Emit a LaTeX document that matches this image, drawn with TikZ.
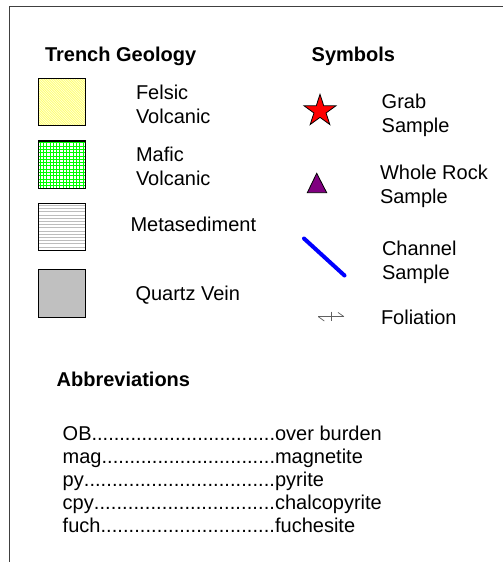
\documentclass[tikz,border=0pt]{standalone}
\usepackage{fontspec}
\setmainfont{Liberation Sans}
\usetikzlibrary{shapes.geometric}
\definecolor{framegray}{HTML}{404040}
\definecolor{quartz}{HTML}{C0C0C0}
\definecolor{felsicbg}{HTML}{FFFFD8}
\definecolor{felsicln}{HTML}{FFFF70}
\definecolor{maficln}{HTML}{00FF00}
\definecolor{sedln}{HTML}{BDBDBD}
\definecolor{wrpurple}{HTML}{800080}
\definecolor{foligray}{HTML}{606060}
\begin{document}
\begin{tikzpicture}[x=1pt,y=-1pt,
  every node/.style={inner sep=0pt,outer sep=0pt,font=\fontsize{20}{24}\selectfont},
  heading/.style={anchor=base west,font=\fontsize{20}{24}\selectfont\bfseries},
  label/.style={anchor=base west},
  unitbox/.style={rectangle,minimum width=47.4,minimum height=47.4,draw=black,line width=1.1pt},
  abbrevrow/.style={anchor=base west}]
\useasboundingbox (0,0) rectangle (503,562);

% panel frame (top and left edges)
\draw[framegray,line width=1pt] (503,6) -- (9,6) -- (9,562);

% headings
\node[heading] (hgeo) at (45,61.7) {Trench Geology};
\node[heading] (hsym) at (311.7,61.7) {Symbols};
\node[heading] (habb) at (56.7,386) {Abbreviations};

% geology units
\node[unitbox,fill=felsicbg,path picture={
  \foreach \i in {-48,-45.6,...,48}
    \draw[felsicln,line width=0.7pt] (path picture bounding box.north west) ++(\i,0) -- ++(50,50);
}] (felsic) at (62,102) {};
\node[unitbox,fill=white,path picture={
  \foreach \i in {1.8,5.1,...,48}{
    \draw[maficln,line width=0.9pt] (path picture bounding box.north west) ++(\i,0) -- ++(0,50);
    \draw[maficln,line width=0.9pt] (path picture bounding box.north west) ++(0,\i) -- ++(50,0);}
}] (mafic) at (62,164.7) {};
\node[unitbox,fill=white,path picture={
  \foreach \i in {2,5.2,...,48}
    \draw[sedln,line width=0.8pt] (path picture bounding box.north west) ++(0,\i) -- ++(50,0);
}] (metased) at (62,227) {};
\node[unitbox,fill=quartz] (quartzv) at (62,293.6) {};

\node[label] (tfelsic) at (136,99) {\vtop{\hbox{Felsic}\hbox{Volcanic}}};
\node[label] (tmafic) at (136,161.5) {\vtop{\hbox{Mafic}\hbox{Volcanic}}};
\node[label] (tmeta) at (130.5,231) {Metasediment};
\node[label] (tquartz) at (135.5,300.5) {Quartz Vein};

% symbols
\node[star,star points=5,star point ratio=2.618,minimum size=33.4,
  fill=red,draw=black,line width=0.8pt] (grabstar) at (320,111) {};
\node[label] (tgrab) at (381.7,108) {\vtop{\hbox{Grab}\hbox{Sample}}};

\draw[fill=wrpurple,draw=black,line width=0.8pt]
  (316.7,173.3) -- (326.7,192.7) -- (307.3,192.7) -- cycle;
\node[label] (twhole) at (380,179) {\vtop{\hbox{Whole Rock}\hbox{Sample}}};

\coordinate (chA) at (304,238.5);
\coordinate (chB) at (344.5,275.5);
\draw[blue,line width=4pt,line cap=round] (chA) -- (chB);
\node[label] (tchannel) at (382,255) {\vtop{\hbox{Channel}\hbox{Sample}}};

\coordinate (folL) at (318.3,316.7);
\coordinate (folR) at (344,316.7);
\draw[foligray,line width=0.7pt] (folL) -- (folR);
\draw[foligray,line width=0.7pt] (331,311.7) -- (331,321.2);
\draw[foligray,line width=0.7pt] (folL) -- ++(6,4.3);
\draw[foligray,line width=0.7pt] (folR) -- ++(-6,-4.3);
\node[label] (tfol) at (381,324) {Foliation};

% abbreviations list
\node[abbrevrow] (abOB) at (62.7,440) {\hbox to 212.3pt{OB\xleaders\hbox{.}\hfill}over burden};
\node[abbrevrow] (abmag) at (62.7,463) {\hbox to 212.3pt{mag\xleaders\hbox{.}\hfill}magnetite};
\node[abbrevrow] (abpy) at (62.7,486) {\hbox to 212.3pt{py\xleaders\hbox{.}\hfill}pyrite};
\node[abbrevrow] (abcpy) at (62.7,509) {\hbox to 212.3pt{cpy\xleaders\hbox{.}\hfill}chalcopyrite};
\node[abbrevrow] (abfuch) at (62.7,532) {\hbox to 212.3pt{fuch\xleaders\hbox{.}\hfill}fuchesite};
\end{tikzpicture}
\end{document}
